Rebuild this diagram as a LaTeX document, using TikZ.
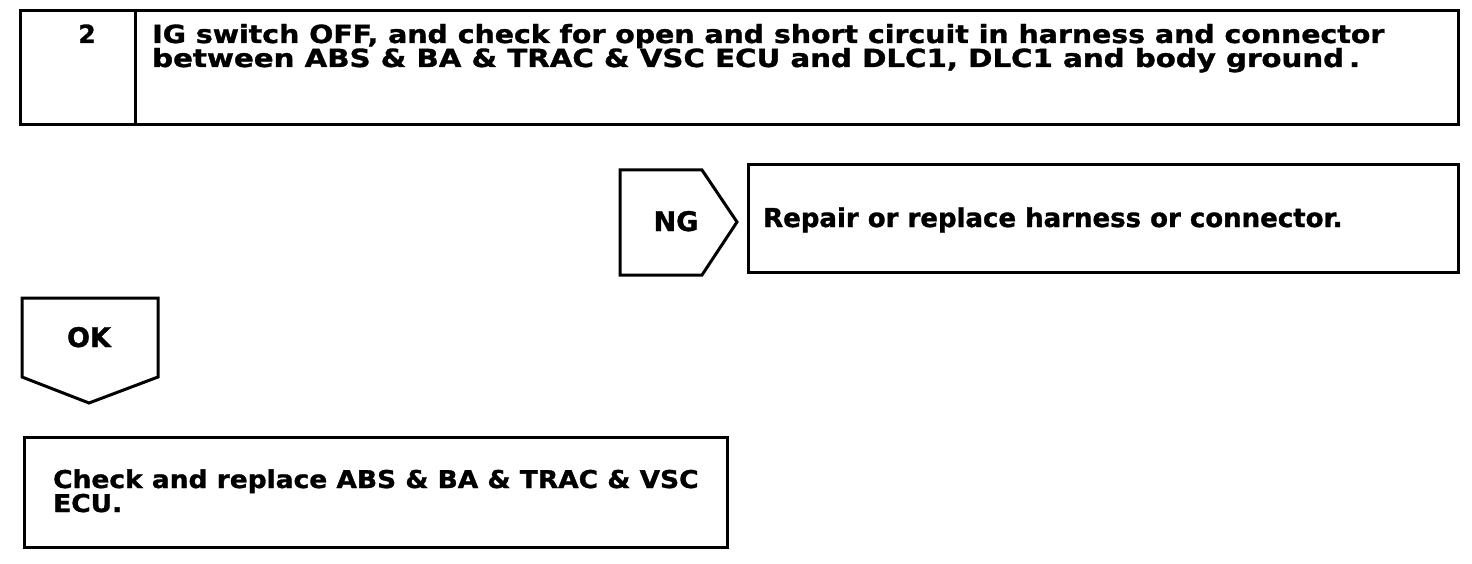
\documentclass[tikz,border=0pt]{standalone}
\usepackage{fontspec}
\setmainfont{DejaVu Sans}[BoldFeatures={FakeBold=1.2}]
\newcommand{\hsx}[2]{\scalebox{#1}[1]{#2}}
\begin{document}
\begin{tikzpicture}[x=1pt,y=-1pt,
  box/.style={draw,line width=3pt,line join=miter},
  txt/.style={font=\bfseries\fontsize{25}{30}\selectfont,inner sep=0pt,align=left},
  txtb/.style={font=\bfseries\fontsize{24.5}{30}\selectfont,inner sep=0pt,align=left},
  txtr/.style={font=\bfseries\fontsize{26}{30}\selectfont,inner sep=0pt,align=left},
  lbl/.style={font=\bfseries\fontsize{27}{30}\selectfont,inner sep=0pt}]
\useasboundingbox[fill=white] (0,0) rectangle (1472,564);
% step 2 box
\draw[box] (20,11) rectangle (1458,125);
\draw[box] (135,11) -- (135,125);
\node[txt,anchor=base] (num) at (87,43) {2};
\node[txt,anchor=base west] (t1) at (152,43) {\hsx{1.135}{IG switch OFF, and check for open and short circuit in harness and connector}};
\node[txt,anchor=base west] (t2) at (152,67) {\hsx{1.17}{between ABS \& BA \& TRAC \& VSC ECU and DLC1, DLC1 and body ground\,.}};
% NG
\draw[box] (620,170) -- (702,170) -- (737,222) -- (702,275) -- (620,275) -- cycle;
\node[lbl,anchor=base] (ng) at (676,231) {NG};
\draw[box] (748,165) rectangle (1458,272);
\node[txtr,anchor=base west] (rep) at (763,227) {Repair or replace harness or connector.};
% OK
\draw[box] (22,298) -- (158,298) -- (158,377) -- (89,403) -- (22,377) -- cycle;
\node[lbl,anchor=base] (ok) at (89,347) {OK};
\draw[box] (24,437) rectangle (727,547);
\node[txtb,anchor=base west] (c1) at (53,488) {\hsx{1.08}{Check and replace ABS \& BA \& TRAC \& VSC}};
\node[txtb,anchor=base west] (c2) at (53,512) {\hsx{1.08}{ECU.}};
\end{tikzpicture}
\end{document}
